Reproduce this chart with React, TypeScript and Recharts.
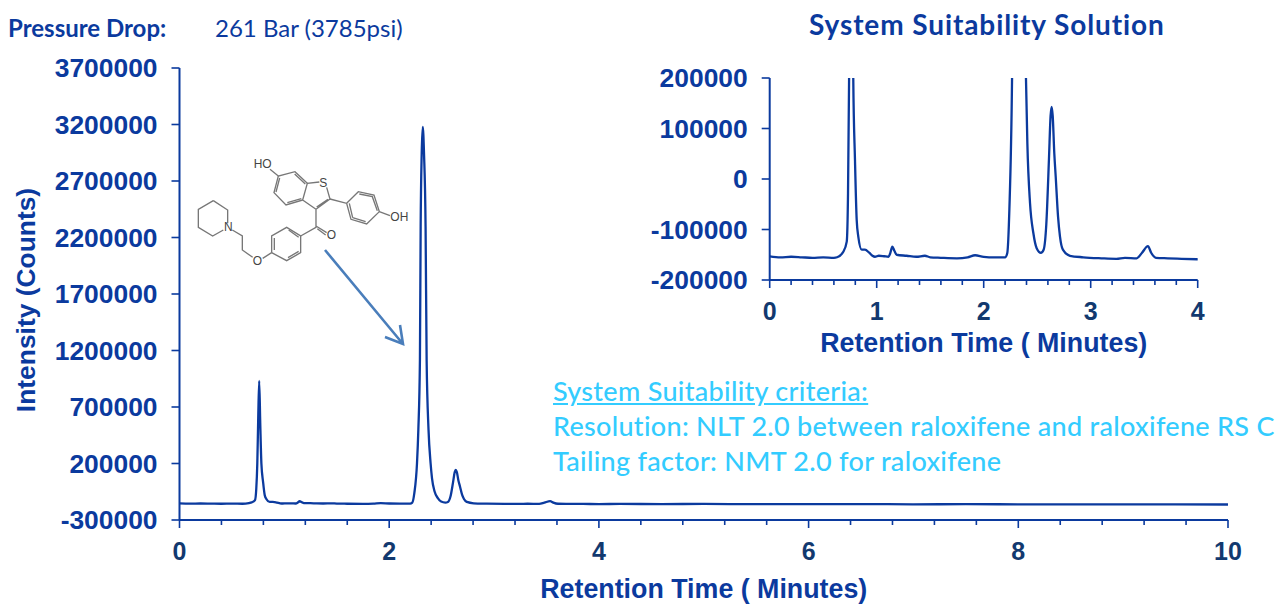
import { LineChart, Line, XAxis, YAxis } from 'recharts'

// retention time (minutes) and detector counts
const retentionTimes = [
  0, 0.1, 0.2, 0.3, 0.4, 0.5, 0.6, 0.63, 0.688, 0.72, 0.732, 0.742, 0.75, 0.76, 0.77, 0.781, 0.797, 0.813, 0.828, 0.86,
  0.89, 0.93, 0.96, 0.984, 1.02, 1.07, 1.11, 1.125, 1.146, 1.165, 1.187, 1.28, 1.37, 1.45, 1.5, 1.6, 1.75, 1.85, 1.92,
  2.0, 2.1, 2.2, 2.22, 2.24, 2.265, 2.278, 2.293, 2.3, 2.31, 2.32, 2.332, 2.347, 2.357, 2.375, 2.395, 2.408, 2.433,
  2.464, 2.495, 2.535, 2.56, 2.585, 2.61, 2.625, 2.635, 2.645, 2.66, 2.673, 2.695, 2.713, 2.74, 2.806, 2.93, 3.1, 3.24,
  3.32, 3.43, 3.48, 3.535, 3.565, 3.61, 3.72, 3.85, 4.0, 4.2, 4.6, 5, 5.5, 6, 6.5, 7, 7.5, 8, 8.5, 9, 9.5, 10,
]
const intensities = [
  -153000, -155000, -154000, -155000, -156000, -155000, -156000, -155000, -144000, -124000, -28000, 200000, 560000,
  930000, 560000, 200000, 38000, -81000, -114000, -140000, -140000, -146000, -152000, -154000, -152000, -153000,
  -154000, -148000, -134000, -142000, -150000, -152000, -154000, -152000, -155000, -156000, -157000, -155000, -151000,
  -154000, -155000, -155000, -147000, -60000, 200000, 500000, 1116000, 2296000, 2943000, 3178000, 2943000, 2296000,
  1116000, 500000, 200000, 71000, -48000, -107000, -137000, -146000, -140000, -90000, 40000, 125000, 143000, 125000,
  50000, 4500, -75000, -114000, -140000, -152000, -155000, -157000, -158000, -156000, -157000, -146000, -133000,
  -146000, -156000, -157000, -158000, -159000, -158000, -159000, -158000, -160000, -160000, -159000, -161000, -160000,
  -161000, -162000, -161000, -162000, -163000,
]

const mainYTicks = [-300000, 200000, 700000, 1200000, 1700000, 2200000, 2700000, 3200000, 3700000]
const mainXTicks = [0, 0.4, 0.8, 1.2, 1.6, 2, 2.4, 2.8, 3.2, 3.6, 4, 4.4, 4.8, 5.2, 5.6, 6, 6.4, 6.8, 7.2, 7.6, 8, 8.4, 8.8, 9.2, 9.6, 10]
const insetYTicks = [-200000, -100000, 0, 100000, 200000]
const insetXTicks = [0, 0.2, 0.4, 0.6, 0.8, 1, 1.2, 1.4, 1.6, 1.8, 2, 2.2, 2.4, 2.6, 2.8, 3, 3.2, 3.4, 3.6, 3.8, 4]

const chartData = retentionTimes.map((time, i) => ({ time, counts: intensities[i] }))
const insetData = chartData.filter((d) => d.time <= 4)

const BLUE = '#0b3a9e'
const NAVY = '#12396f'
const CYAN = '#33ccff'
const AXIS_FONT = '"Liberation Sans", Arial, sans-serif'
const TEXT_FONT = 'Lato, sans-serif'

const tickStyle = { fill: BLUE, fontSize: 26.4, fontWeight: 700, fontFamily: AXIS_FONT }

// x ticks come in two lengths, and only the long ones carry a number
function TimeTick({ x, y, payload, step }: { x?: number; y?: number; payload?: { value: number }; step: number }) {
  const value = payload?.value ?? 0
  const isMajor = Math.abs(value / step - Math.round(value / step)) < 0.001
  return (
    <g>
      <line x1={x} x2={x} y1={y} y2={(y ?? 0) + (isMajor ? 8 : 5)} stroke={BLUE} strokeWidth={1.6} />
      {isMajor && (
        <text x={x} y={(y ?? 0) + 40} textAnchor="middle" {...tickStyle} fontSize={25} fill={NAVY}>
          {value}
        </text>
      )}
    </g>
  )
}

const titleLabel = (value: string, offset: number) => ({
  value,
  position: 'insideBottom' as const,
  offset,
  style: { ...tickStyle, fontSize: 26.8 },
})

// skeletal formula of raloxifene, in a 3x drawing space
const moleculeBonds = [
  'M70 152 L113 180 L113 220 M100 240 L68 258 L25 232 L25 178 L70 152',
  'M127 240 L157 258 L157 300 L188 322 M218 325 L245 308',
  'M245 308 L245 258 L290 232 L332 258 L332 308 L290 332 L245 308',
  'M253 300 L253 264 M296 240 L326 262 M326 304 L294 323',
  'M332 258 L378 232 L378 178 M378 228 L410 248 M382 236 L407 255',
  'M378 178 L338 150 L352 100 L388 96 M410 112 L420 147 L378 178 M414 148 L380 171',
  'M338 150 L288 165 L252 128 L265 78 L315 65 L352 100',
  'M334 146 L292 158 M258 126 L269 84 M314 72 L346 102',
  'M265 78 L240 58',
  'M420 147 L470 160 L505 125 L552 135 L568 185 L530 222 L483 208 L470 160',
  'M508 132 L547 140 L562 182 M527 215 L488 203 M478 160 L488 203',
  'M568 185 L600 197',
]
const moleculeLabels = [
  { text: 'HO', x: 218, y: 54 },
  { text: 'S', x: 400, y: 110 },
  { text: 'OH', x: 628, y: 212 },
  { text: 'N', x: 115, y: 244 },
  { text: 'O', x: 424, y: 268 },
  { text: 'O', x: 202, y: 345 },
]

const overlayText = (left: number, top: number, color: string, size: number, spacing: number) => ({
  position: 'absolute' as const,
  left,
  top,
  color,
  fontFamily: TEXT_FONT,
  fontSize: size,
  letterSpacing: spacing,
  lineHeight: 1,
  whiteSpace: 'nowrap' as const,
})

export default function App() {
  return (
    <div style={{ position: 'absolute', left: 0, top: 0, width: 1276, height: 604, background: '#fff', overflow: 'hidden' }}>
      <LineChart
        width={1276}
        height={604}
        data={chartData}
        margin={{ top: 68, right: 48, bottom: 4, left: 9.5 }}
        style={{ position: 'absolute', left: 0, top: 0 }}
      >
        <XAxis
          dataKey="time"
          type="number"
          domain={[0, 10]}
          ticks={mainXTicks}
          interval={0}
          height={80}
          tickSize={0}
          tickMargin={0}
          tick={<TimeTick step={2} />}
          axisLine={{ stroke: BLUE, strokeWidth: 2 }}
          label={titleLabel('Retention Time ( Minutes)', 2)}
        />
        <YAxis
          type="number"
          domain={[-300000, 3700000]}
          ticks={mainYTicks}
          interval={0}
          width={170}
          tickSize={8}
          tickMargin={14}
          tick={tickStyle}
          tickLine={{ stroke: BLUE, strokeWidth: 1.6 }}
          axisLine={{ stroke: BLUE, strokeWidth: 2 }}
        />
        <Line dataKey="counts" type="monotone" stroke={BLUE} strokeWidth={2.3} dot={false} isAnimationActive={false} />
      </LineChart>

      <LineChart
        width={590}
        height={300}
        data={insetData}
        margin={{ top: 18, right: 32.3, bottom: 4, left: 9.7 }}
        style={{ position: 'absolute', left: 640, top: 60 }}
      >
        <XAxis
          dataKey="time"
          type="number"
          domain={[0, 4]}
          ticks={insetXTicks}
          interval={0}
          height={76}
          tickSize={0}
          tickMargin={0}
          tick={<TimeTick step={1} />}
          axisLine={{ stroke: BLUE, strokeWidth: 2 }}
          label={titleLabel('Retention Time ( Minutes)', 4)}
        />
        <YAxis
          type="number"
          domain={[-200000, 200000]}
          allowDataOverflow
          ticks={insetYTicks}
          interval={0}
          width={120}
          tickSize={8}
          tickMargin={14}
          tick={tickStyle}
          tickLine={{ stroke: BLUE, strokeWidth: 1.6 }}
          axisLine={{ stroke: BLUE, strokeWidth: 2 }}
        />
        <Line dataKey="counts" type="monotone" stroke={BLUE} strokeWidth={2.3} dot={false} isAnimationActive={false} />
      </LineChart>

      <svg width={1276} height={604} style={{ position: 'absolute', left: 0, top: 0, pointerEvents: 'none' }}>
        <text transform="translate(35 300) rotate(-90)" textAnchor="middle" {...tickStyle}>
          Intensity (Counts)
        </text>
        <g transform="translate(190 150) scale(0.3333)" fill="none" stroke="#777" strokeWidth={4}>
          {moleculeBonds.map((d) => (
            <path key={d} d={d} />
          ))}
          {moleculeLabels.map((l) => (
            <text
              key={`${l.text}-${l.x}`}
              x={l.x}
              y={l.y}
              textAnchor="middle"
              fill="#444"
              stroke="none"
              fontFamily={AXIS_FONT}
              fontSize={36}
            >
              {l.text}
            </text>
          ))}
        </g>
        <path d="M325 250 L403 344 M400 325 L403 344 L385 337" fill="none" stroke="#4a7ebb" strokeWidth={2.6} />
      </svg>

      <div style={{ ...overlayText(8, 16, BLUE, 24, 0), fontWeight: 700 }}>Pressure Drop:</div>
      <div style={overlayText(215, 16, BLUE, 24, 0)}>261 Bar (3785psi)</div>
      <div style={{ ...overlayText(809, 10, BLUE, 28, 0.9), fontWeight: 700 }}>System Suitability Solution</div>
      <div style={{ ...overlayText(553, 377, CYAN, 27, 0.3), fontWeight: 500, textDecoration: 'underline' }}>System Suitability criteria:</div>
      <div style={{ ...overlayText(553, 412, CYAN, 27, 0.3), fontWeight: 500 }}>Resolution: NLT 2.0 between raloxifene and raloxifene RS C</div>
      <div style={{ ...overlayText(553, 447, CYAN, 27, 0.3), fontWeight: 500 }}>Tailing factor: NMT 2.0 for raloxifene</div>
    </div>
  )
}
